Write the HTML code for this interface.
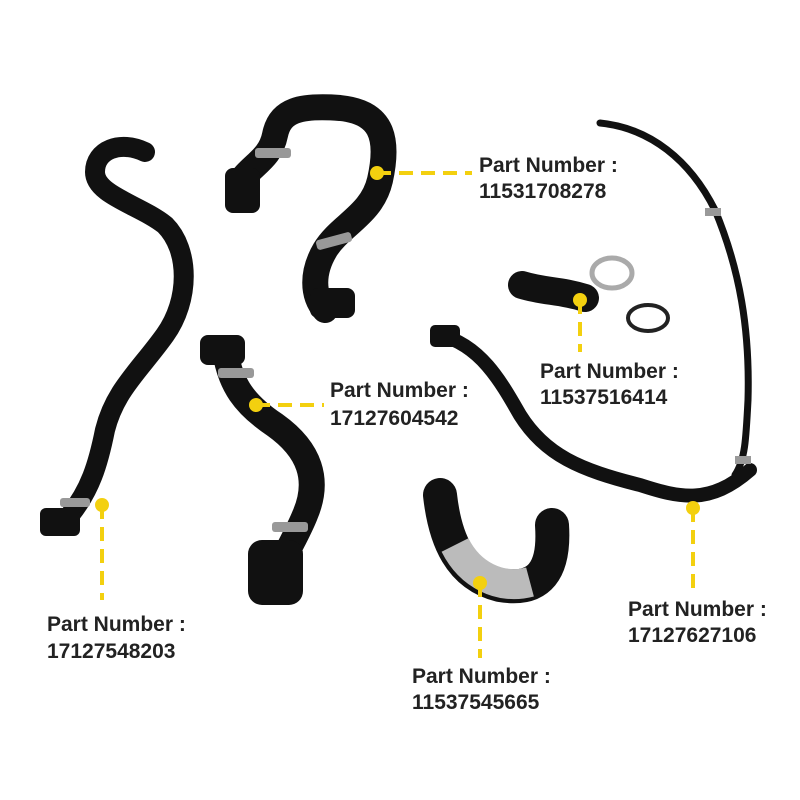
<!DOCTYPE html>
<html><head><meta charset="utf-8"><style>
html,body{margin:0;padding:0;background:#fff;}
svg{display:block}
text{font-family:"Liberation Sans",sans-serif;font-weight:bold;font-size:21px;fill:#222;}
</style></head><body>
<svg width="800" height="800" viewBox="0 0 800 800">
<g fill="none" stroke="#111" stroke-linecap="round" stroke-linejoin="round">
 <path d="M145,152 C120,140 95,150 95,172 C95,195 140,205 165,225 C190,250 190,300 165,335 C140,370 115,390 105,430 C98,465 90,490 70,515" stroke-width="20"/>
 <path d="M238,185 C250,165 270,160 275,135 C280,110 300,105 340,108 C380,112 390,135 380,180 C372,215 340,225 325,250 C312,272 312,295 325,310" stroke-width="26"/>
 <path d="M225,350 C230,385 245,405 275,425 C310,450 320,480 305,515 C295,540 280,560 272,590" stroke-width="26"/>
 <path d="M600,123 C650,128 690,160 715,210 C740,270 750,330 748,400 C746,440 745,460 735,475" stroke-width="7"/>
 <path d="M440,335 C480,345 500,380 520,415 C545,455 580,470 640,485 C680,498 710,505 750,470" stroke-width="14"/>
 <path d="M522,285 C545,292 560,290 585,298" stroke-width="28"/>
 <path d="M440,495 C445,540 460,575 500,585 C540,592 555,570 552,525" stroke-width="34"/>
</g>
<path d="M455,545 C470,575 500,590 530,582" fill="none" stroke="#bbb" stroke-width="30" stroke-linecap="butt"/>
<g fill="#999">
 <rect x="255" y="148" width="36" height="10" rx="3"/>
 <rect x="316" y="236" width="36" height="10" rx="3" transform="rotate(-15 334 241)"/>
 <rect x="218" y="368" width="36" height="10" rx="3"/>
 <rect x="272" y="522" width="36" height="10" rx="3"/>
 <rect x="60" y="498" width="30" height="9" rx="3"/>
 <rect x="705" y="208" width="16" height="8"/>
 <rect x="735" y="456" width="16" height="8"/>
</g>
<rect x="248" y="540" width="55" height="65" rx="14" fill="#111"/>
<rect x="225" y="168" width="35" height="45" rx="8" fill="#111"/>
<rect x="200" y="335" width="45" height="30" rx="8" fill="#111"/>
<rect x="310" y="288" width="45" height="30" rx="8" fill="#111"/>
<rect x="40" y="508" width="40" height="28" rx="6" fill="#111"/>
<rect x="430" y="325" width="30" height="22" rx="5" fill="#111"/>
<ellipse cx="612" cy="273" rx="20" ry="15" fill="none" stroke="#aaa" stroke-width="5"/>
<ellipse cx="648" cy="318" rx="20" ry="13" fill="none" stroke="#222" stroke-width="4"/>
<g stroke="#f3d00f" stroke-width="4" stroke-dasharray="14 8" fill="none">
 <path d="M377,173 H472"/>
 <path d="M580,300 V352"/>
 <path d="M256,405 H324"/>
 <path d="M102,505 V600"/>
 <path d="M480,583 V658"/>
 <path d="M693,508 V592"/>
</g>
<g fill="#f3d00f">
 <circle cx="377" cy="173" r="7"/><circle cx="580" cy="300" r="7"/>
 <circle cx="256" cy="405" r="7"/><circle cx="102" cy="505" r="7"/>
 <circle cx="480" cy="583" r="7"/><circle cx="693" cy="508" r="7"/>
</g>
<text x="479" y="172">Part Number :</text><text x="479" y="198">11531708278</text>
<text x="540" y="378">Part Number :</text><text x="540" y="404">11537516414</text>
<text x="330" y="397">Part Number :</text><text x="330" y="425">17127604542</text>
<text x="47" y="631">Part Number :</text><text x="47" y="658">17127548203</text>
<text x="412" y="683">Part Number :</text><text x="412" y="709">11537545665</text>
<text x="628" y="616">Part Number :</text><text x="628" y="642">17127627106</text>
</svg>
</body></html>
